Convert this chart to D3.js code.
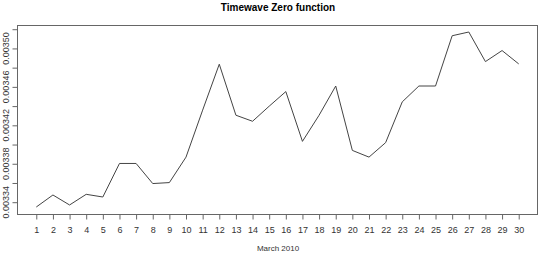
<!DOCTYPE html>
<html>
<head>
<meta charset="utf-8">
<script src="https://cdn.jsdelivr.net/npm/d3@7"></script>
<style>
body { margin: 0; background: #fff; }
svg text { font-family: "Liberation Sans", Arial, sans-serif; fill: #333; }
</style>
</head>
<body>
<div class="chart"></div>
<script>
const days = d3.range(1, 31)
const values = [
  0.0033350, 0.0033475, 0.0033371, 0.0033482, 0.0033454,
  0.0033803, 0.0033803, 0.0033594, 0.0033604, 0.0033869,
  0.0034358, 0.0034836, 0.0034305, 0.0034242, 0.0034399,
  0.0034551, 0.0034033, 0.0034305, 0.0034609, 0.0033939,
  0.0033869, 0.0034020, 0.0034444, 0.0034609, 0.0034609,
  0.0035132, 0.0035171, 0.0034863, 0.0034978, 0.0034839
]
const yTicks = d3.range(0, 10).map(i => 0.00334 + i * 0.00002)
const yLabels = [0.00334, 0.00338, 0.00342, 0.00346, 0.00350]

const width = 540, height = 253
const margin = {top: 25, right: 2, bottom: 39, left: 17}

const svg = d3.select('.chart').append('svg')
.attr('width', width)
.attr('height', height)

// R style 4% padding on both axes
const pad = (ext) => { let d = (ext[1] - ext[0]) * 0.04; return [ext[0] - d, ext[1] + d] }

const x = d3.scaleLinear()
.domain(pad([1, 30]))
.range([margin.left, width - margin.right])

const y = d3.scaleLinear()
.domain(pad(d3.extent(values)))
.range([height - margin.bottom, margin.top])

const data = days.map((d, i) => ({day: d, v: values[i]}))

svg.append('path')
.datum(data)
.attr('fill', 'none')
.attr('stroke', '#444')
.attr('stroke-width', 1)
.attr('d', d3.line().x(d => x(d.day)).y(d => y(d.v)))

// box
svg.append('rect')
.attr('x', margin.left + 0.5)
.attr('y', margin.top + 0.5)
.attr('width', width - margin.right - margin.left - 1)
.attr('height', height - margin.bottom - margin.top)
.attr('fill', 'none')
.attr('stroke', '#666')

const xAxis = svg.append('g')
.attr('transform', `translate(0,${height - margin.bottom + 0.5})`)
.call(d3.axisBottom(x).tickValues(days).tickSize(5).tickPadding(7).tickFormat(d3.format('d')))

xAxis.select('.domain').remove()
xAxis.selectAll('line').attr('stroke', '#666')
xAxis.selectAll('text').style('font-size', '9px')

const yAxis = svg.append('g')
.attr('transform', `translate(${margin.left + 0.5},0)`)
.call(d3.axisLeft(y).tickValues(yTicks).tickSize(5).tickFormat(''))

yAxis.select('.domain').remove()
yAxis.selectAll('line').attr('stroke', '#666')

svg.append('g')
.selectAll('text')
.data(yLabels)
.enter()
.append('text')
.attr('transform', d => `translate(9,${y(d)}) rotate(-90)`)
.attr('text-anchor', 'middle')
.style('font-size', '9px')
.text(d => d3.format('.5f')(d))

svg.append('text')
.attr('x', 278)
.attr('y', 11)
.attr('text-anchor', 'middle')
.style('font-size', '10px')
.style('font-weight', 'bold')
.style('fill', '#000')
.text('Timewave Zero function')

svg.append('text')
.attr('x', 278)
.attr('y', 251)
.attr('text-anchor', 'middle')
.style('font-size', '8px')
.text('March 2010')
</script>
</body>
</html>
